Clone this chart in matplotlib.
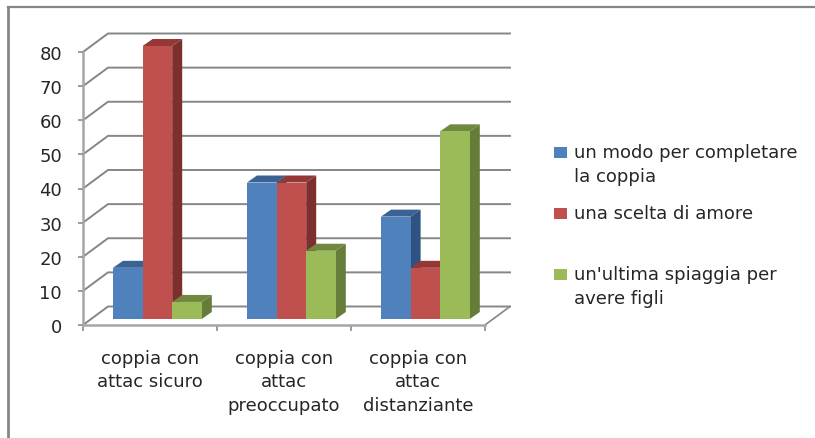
import matplotlib
matplotlib.use("Agg")
import matplotlib.pyplot as plt
from matplotlib.lines import Line2D
from matplotlib.patches import Polygon, Rectangle

categories = ["coppia con\nattac sicuro", "coppia con\nattac\npreoccupato", "coppia con\nattac\ndistanziante"]
series_names = ["un modo per completare\nla coppia", "una scelta di amore", "un'ultima spiaggia per\navere figli"]
modo = [15, 40, 30]
scelta = [80, 40, 15]
spiaggia = [5, 20, 55]
y_ticks = [0, 10, 20, 30, 40, 50, 60, 70, 80]

front_colors = ["#4F81BD", "#C0504D", "#9BBB59"]
side_colors = ["#2F5284", "#7D2F2D", "#667C39"]
top_colors = ["#3A6394", "#953735", "#71893F"]
grid = "#868686"
text_c = "#262626"
FS = 13
LS = 1.42

W, H = 815, 439
fig = plt.figure(figsize=(W / 100, H / 100), dpi=100, facecolor="white")
L, R, B, T = 83, 485, 326, 53
ax = fig.add_axes([L / W, 1 - B / H, (R - L) / W, (B - T) / H])
ax.set_xlim(0, 3)
ax.set_ylim(0, 80)
ax.patch.set_visible(False)
PX = 3 / (R - L)
PY = 80 / (B - T)

# back wall
DX, DY = 25 * PX, 18.5 * PY
for v in y_ticks:
    ax.plot([0, DX, 3 + DX], [v, v + DY, v + DY], color=grid, lw=1.4, clip_on=False, zorder=1)
ax.plot([3, 3 + DX], [0, DY], color=grid, lw=1.2, clip_on=False, zorder=1)

# bars
BW = 29.6 * PX
X0 = 22 * PX
LIFT = 6 * PY
SX, SY = 10 * PX, 7 * PY
for j, vals in enumerate([modo, scelta, spiaggia]):
    for i, v in enumerate(vals):
        x = i + X0 + 8 * PX + j * BW
        z = 3 + j * 0.01
        ax.add_patch(Polygon([(x + BW, LIFT), (x + BW + SX, LIFT + SY), (x + BW + SX, LIFT + v + SY), (x + BW, LIFT + v)],
                             fc=side_colors[j], ec="none", clip_on=False, zorder=z))
        ax.add_patch(Polygon([(x, LIFT + v), (x + SX, LIFT + v + SY), (x + BW + SX, LIFT + v + SY), (x + BW, LIFT + v)],
                             fc=top_colors[j], ec="none", clip_on=False, zorder=z))
        ax.bar(x, v, width=BW, bottom=LIFT, align="edge", color=front_colors[j], zorder=z + 0.001, clip_on=False)

# axes
for s in ("top", "right"):
    ax.spines[s].set_visible(False)
ax.spines["left"].set_color("#A6A6A6")
ax.spines["left"].set_linewidth(1.8)
ax.spines["bottom"].set_color("#A6A6A6")
ax.spines["bottom"].set_linewidth(1.8)
ax.set_yticks(y_ticks)
ax.set_yticklabels([str(v) for v in y_ticks], fontsize=FS, color=text_c)
ax.tick_params(axis="y", length=3.6, width=1.1, color="#808080", pad=11.5)
ax.set_xticks([0, 1, 2, 3])
ax.set_xticklabels([])
ax.tick_params(axis="x", which="major", length=4.5, width=1.1, color="#808080")
ax.set_xticks([0.5, 1.5, 2.5], minor=True)
ax.set_xticklabels(categories, minor=True, fontsize=FS, color=text_c, linespacing=LS)
ax.tick_params(axis="x", which="minor", length=0, pad=17)

# legend
ly = [153, 214, 275]
for name, c, y in zip(series_names, front_colors, ly):
    fig.add_artist(Rectangle((554 / W, 1 - (y + 5.5) / H), 13 / W, 11 / H, transform=fig.transFigure, fc=c, ec="none"))
    fig.text(574 / W, 1 - (y - 9) / H, name, fontsize=FS, color=text_c, va="top", ha="left", linespacing=LS)

# frame
fig.add_artist(Line2D([8 / W, 8 / W], [0, 1 - 8 / H], color=grid, lw=2))
fig.add_artist(Line2D([8 / W, 1], [1 - 8 / H, 1 - 8 / H], color=grid, lw=1.6))

fig.savefig("out.png", dpi=100)
